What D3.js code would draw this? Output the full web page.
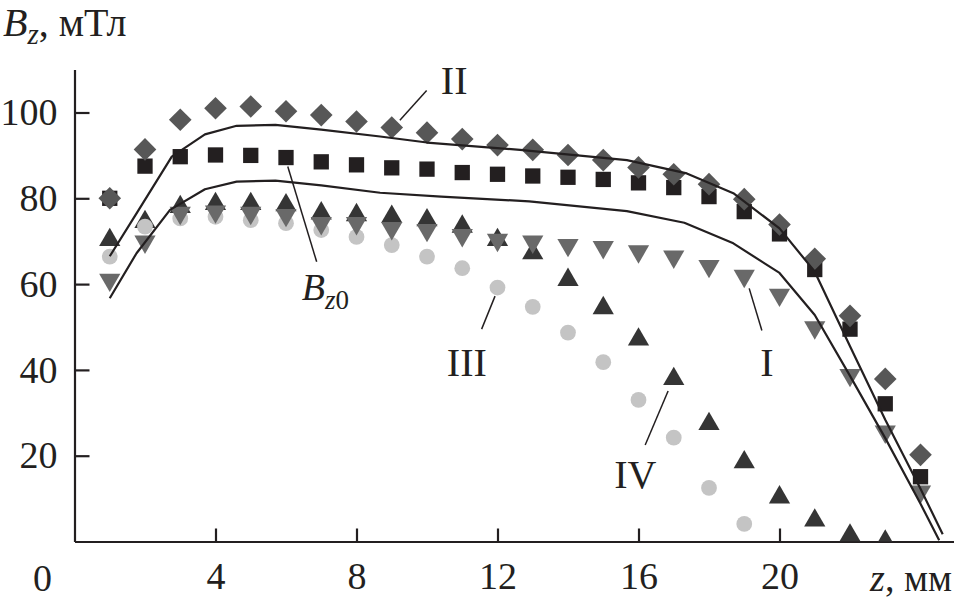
<!DOCTYPE html>
<html>
<head>
<meta charset="utf-8">
<script src="https://cdn.jsdelivr.net/npm/d3@7"></script>
<style>
  body { margin: 0; background: #fff; }
  svg text { font-family: "Liberation Serif", "Times New Roman", serif; fill: #231f20; }
</style>
</head>
<body>
<div id="chart"></div>
<script>
// z, mm for the measured points
var zs = [1,2,3,4,5,6,7,8,9,10,11,12,13,14,15,16,17,18,19,20,21,22,23,24];

// series II (diamonds)
var seriesII = [80,91.4,98.3,101,101.4,100.3,99.4,97.9,96.5,95.3,93.8,92.4,91.3,90.1,88.9,87.2,85.6,83.3,79.8,73.9,65.9,52.6,37.9,20.2];
// Bz0 (squares)
var seriesBz0 = [80,87.5,89.7,90.1,90,89.5,88.5,87.8,87.1,86.8,86,85.6,85.2,84.9,84.4,83.6,82.5,80.4,76.9,71.7,63.4,49.5,32.1,15.1];
// series IV (up triangles)
var seriesIV = [70.3,74.5,78,78.7,78.7,78.4,76.5,76.1,75.7,74.9,73.4,70.3,67.2,61,54.4,47.1,37.9,27.4,18.5,10.3,4.9,1.4,0];
// series I (down triangles)
var seriesI = [61,69.9,76.6,76.9,76.6,76.1,74.2,74.2,73,72.6,71.4,70.3,69.9,69.1,68.6,67.6,66.4,64.2,61.9,57.5,49.9,38.8,25.6,11.6];
// series III (circles)
var seriesIII = [66.4,73.4,75.3,75.7,74.9,74.2,72.6,71,69.1,66.4,63.7,59.2,54.7,48.7,41.8,33,24.2,12.5,4.1];

// calculated curves (z, B)
var upperZ = [1,1.76,2.76,3.7,4.6,5.7,7,8.67,10,12.64,15.67,17.37,18.69,20,21,22,23,24,24.63];
var upperB = [66.5,76.5,89.7,94.9,96.9,97.1,96,94.4,93,91.3,88.9,85.8,81.2,73,62.9,45.5,28.4,12.3,1.7];
var lowerZ = [1,1.76,2.71,3.7,4.6,5.7,7,8.67,10.4,12.9,15.67,17.3,18.69,20,21,22,23,24,24.53];
var lowerB = [56.7,67.2,77.3,82.1,83.9,84.1,83,81.3,80.4,79.3,77,74.3,69.5,62.6,52.8,38.6,24.1,8.8,0.3];

var xTicks = [4,8,12,16,20];
var yTicks = [20,40,60,80,100];

var width = 954, height = 602;

var x = d3.scaleLinear().domain([0, 25]).range([74.5, 955.75]);
var y = d3.scaleLinear().domain([0, 110]).range([541.5, 69.6]);

var svg = d3.select('#chart')
  .append('svg')
  .attr('width', width)
  .attr('height', height);

svg.append('defs').append('clipPath')
  .attr('id', 'plotclip')
  .append('rect')
  .attr('x', 0).attr('y', 0)
  .attr('width', width).attr('height', y(0));

// axes
var yAxis = svg.append('g')
  .attr('transform', 'translate(' + x(0) + ',0)')
  .call(d3.axisLeft(y).tickValues(yTicks).tickSize(-15).tickSizeOuter(0).tickPadding(17));

var xAxis = svg.append('g')
  .attr('transform', 'translate(0,' + y(0) + ')')
  .call(d3.axisBottom(x).tickValues(xTicks).tickSize(-13).tickSizeOuter(0).tickPadding(21));

[yAxis, xAxis].forEach(function(a) {
  a.attr('font-family', null).attr('font-size', null);
  a.selectAll('path, line').attr('stroke', '#231f20').attr('stroke-width', 2.2);
  a.selectAll('text').attr('fill', '#231f20').style('font-size', '38px');
});

// origin label
svg.append('text')
  .attr('x', x(0) - 32).attr('y', y(0) + 49)
  .attr('text-anchor', 'middle')
  .style('font-size', '38px')
  .text('0');

// axis titles
var yt = svg.append('text').attr('x', 3).attr('y', 36).style('font-size', '40px');
yt.append('tspan').style('font-style', 'italic').text('B');
yt.append('tspan').style('font-style', 'italic').style('font-size', '29px').attr('dy', 8).text('z');
yt.append('tspan').attr('dy', -8).text(', мТл');

var xt = svg.append('text').attr('x', 952).attr('y', y(0) + 49)
  .attr('text-anchor', 'end').style('font-size', '38px');
xt.append('tspan').style('font-style', 'italic').text('z');
xt.append('tspan').text(', мм');

// markers
var plot = svg.append('g').attr('clip-path', 'url(#plotclip)');

function pts(vals) {
  return vals.map(function(v, i) { return {z: zs[i], b: v}; });
}

function drawSeries(vals, type, size, rot, color) {
  plot.append('g').selectAll('path')
    .data(pts(vals))
    .enter().append('path')
    .attr('d', d3.symbol().type(type).size(size))
    .attr('transform', function(d) {
      return 'translate(' + x(d.z) + ',' + y(d.b) + ') rotate(' + rot + ')';
    })
    .attr('fill', color);
}

drawSeries(seriesIV, d3.symbolTriangle, 195, 0, '#353535');
drawSeries(seriesIII, d3.symbolCircle, 195, 0, '#c4c4c4');
drawSeries(seriesI, d3.symbolTriangle, 195, 180, '#696969');
drawSeries(seriesBz0, d3.symbolSquare, 234, 0, '#231f20');
drawSeries(seriesII, d3.symbolSquare, 256, 45, '#575757');

// curves
var line = d3.line()
  .x(function(d) { return x(d[0]); })
  .y(function(d) { return y(d[1]); });

[[upperZ, upperB], [lowerZ, lowerB]].forEach(function(c) {
  svg.append('path')
    .datum(d3.zip(c[0], c[1]))
    .attr('d', line)
    .attr('fill', 'none')
    .attr('stroke', '#231f20')
    .attr('stroke-width', 2.2)
    .attr('stroke-linejoin', 'round');
});

// labels with leader lines
var labels = [
  {text: 'II', lz: [9.23, 9.99], lb: [98.2, 105.1], tz: 10.77, tb: 104.3},
  {text: 'III', lz: [11.93, 11.55], lb: [57.2, 49.5], tz: 11.13, tb: 38.6},
  {text: 'I', lz: [19.14, 19.5], lb: [59.0, 49.2], tz: 19.64, tb: 38.6},
  {text: 'IV', lz: [16.84, 16.19], lb: [35.1, 22.5], tz: 15.91, tb: 12.4}
];

labels.forEach(function(l) {
  svg.append('line')
    .attr('x1', x(l.lz[0])).attr('y1', y(l.lb[0]))
    .attr('x2', x(l.lz[1])).attr('y2', y(l.lb[1]))
    .attr('stroke', '#231f20').attr('stroke-width', 1.5);
  svg.append('text')
    .attr('x', x(l.tz)).attr('y', y(l.tb))
    .attr('text-anchor', 'middle')
    .style('font-size', '40px')
    .text(l.text);
});

// Bz0 label
svg.append('line')
  .attr('x1', x(6.05)).attr('y1', y(87.4))
  .attr('x2', x(6.87)).attr('y2', y(65.2))
  .attr('stroke', '#231f20').attr('stroke-width', 1.5);
var bl = svg.append('text').attr('x', x(6.45)).attr('y', y(56.3)).style('font-size', '38px');
bl.append('tspan').style('font-style', 'italic').text('B');
bl.append('tspan').style('font-style', 'italic').style('font-size', '27px').attr('dy', 9).text('z');
bl.append('tspan').style('font-size', '27px').text('0');
</script>
</body>
</html>
